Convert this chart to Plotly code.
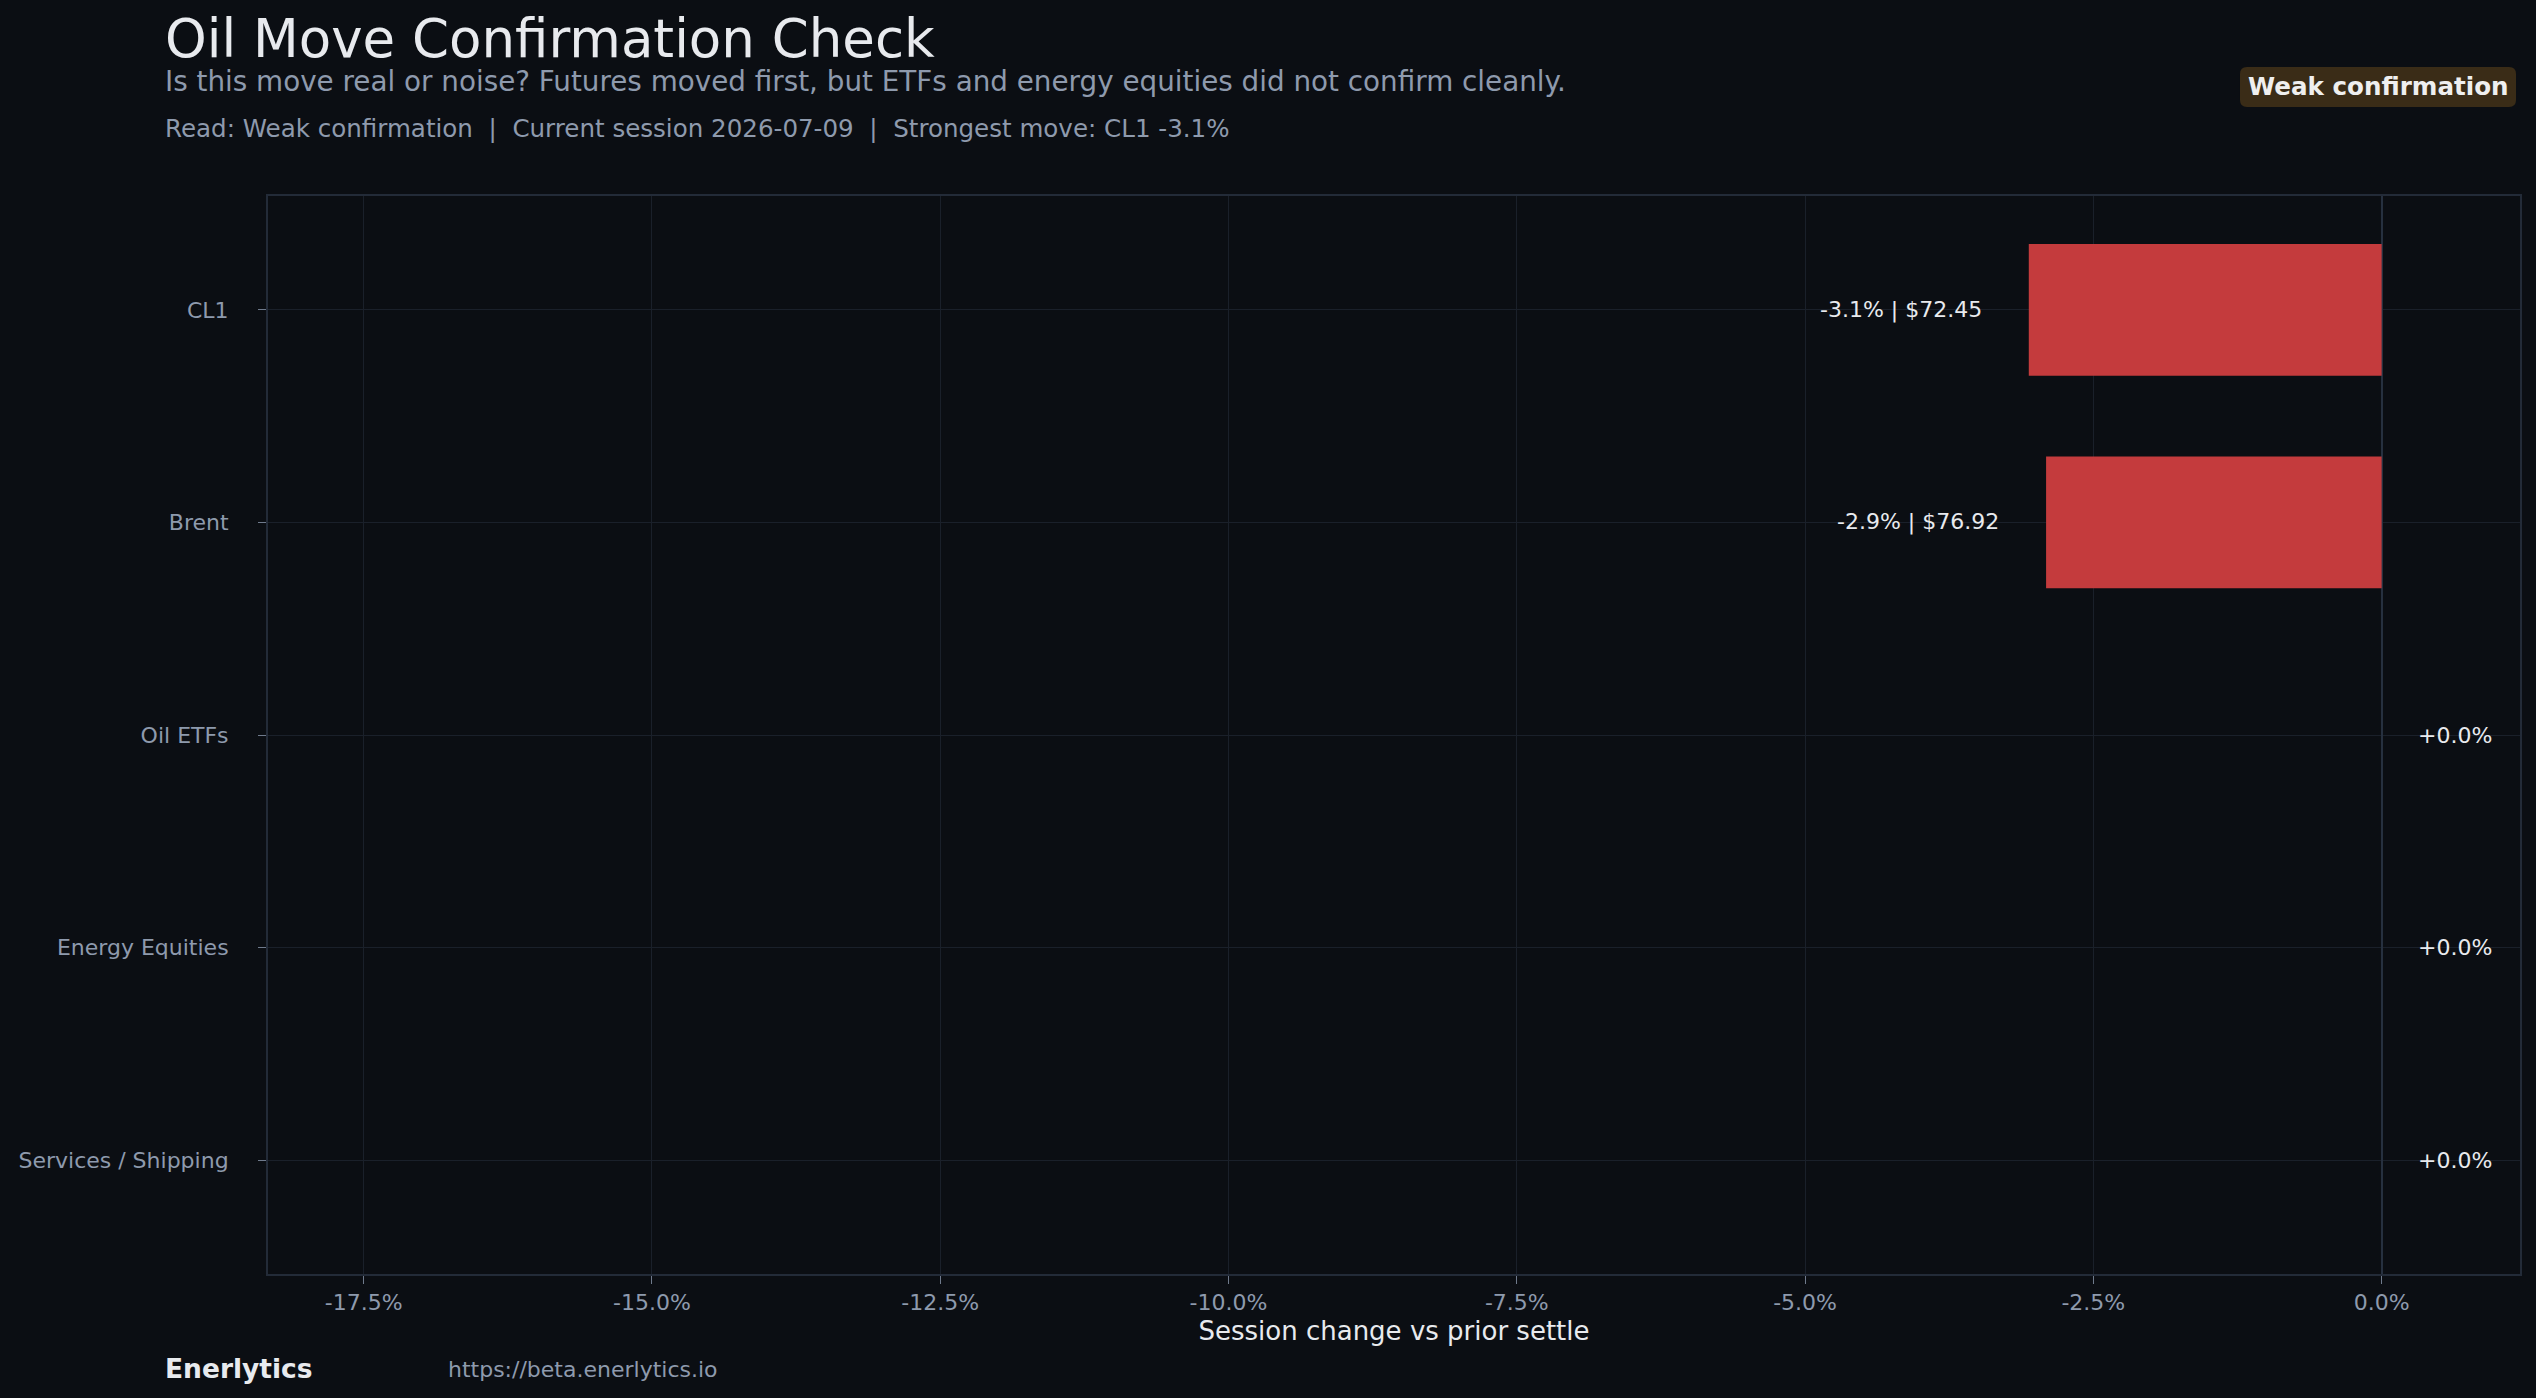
import plotly.graph_objects as go

# ---------------- data ----------------
categories = ["CL1", "Brent", "Oil ETFs", "Energy Equities", "Services / Shipping"]
session_change_pct = [-3.06, -2.91, 0.0, 0.0, 0.0]
last_price = [72.45, 76.92, None, None, None]
x_tick_values = [-17.5, -15.0, -12.5, -10.0, -7.5, -5.0, -2.5, 0.0]
x_tick_labels = ["-17.5%", "-15.0%", "-12.5%", "-10.0%", "-7.5%", "-5.0%", "-2.5%", "0.0%"]

title_text = "Oil Move Confirmation Check"
subtitle_text = "Is this move real or noise? Futures moved first, but ETFs and energy equities did not confirm cleanly."
read_text = "Read: Weak confirmation  |  Current session 2026-07-09  |  Strongest move: CL1 -3.1%"
badge_text = "Weak confirmation"
brand_text = "Enerlytics"
url_text = "https://beta.enerlytics.io"
x_title = "Session change vs prior settle"

# ---------------- style ----------------
W, H = 2536, 1398
PL, PR, PT, PB = 268, 2520, 196, 1274
BG = "#0b0e13"
FONT = "DejaVu Sans"
TXT = "#e8eaee"
MUTED = "#8e9aad"
GRID = "#1a202a"
AXLINE = "#232b38"
BAR = "#c43b3d"


def px_x(px):
    return (px - PL) / (PR - PL)


def px_y(py):
    return (PB - py) / (PB - PT)


fig = go.Figure()
fig.add_trace(go.Bar(
    y=categories,
    x=session_change_pct,
    orientation="h",
    marker=dict(color=BAR, line=dict(width=0)),
    width=0.62,
    hoverinfo="skip",
    showlegend=False,
))

annotations = []
# value labels
for cat, v, p in zip(categories, session_change_pct, last_price):
    txt = f"{v:+.1f}%"
    if p is not None:
        txt += f" | ${p:.2f}"
    if v < 0:
        annotations.append(dict(x=v - 0.39, y=cat, xref="x", yref="y", text=txt,
                                showarrow=False, xanchor="right", yanchor="middle",
                                font=dict(family=FONT, size=22, color=TXT)))
    else:
        annotations.append(dict(x=v + 0.30, y=cat, xref="x", yref="y", text=txt,
                                showarrow=False, xanchor="left", yanchor="middle",
                                font=dict(family=FONT, size=22, color=TXT)))

# header texts
annotations += [
    dict(x=px_x(163), y=px_y(38), xref="paper", yref="paper", text=title_text,
         showarrow=False, xanchor="left", yanchor="middle",
         font=dict(family=FONT, size=53, color=TXT)),
    dict(x=px_x(163), y=px_y(81.5), xref="paper", yref="paper", text=subtitle_text,
         showarrow=False, xanchor="left", yanchor="middle",
         font=dict(family=FONT, size=27.8, color=MUTED)),
    dict(x=px_x(163), y=px_y(128.5), xref="paper", yref="paper", text=read_text,
         showarrow=False, xanchor="left", yanchor="middle",
         font=dict(family=FONT, size=24.55, color=MUTED)),
    dict(x=px_x(2378), y=px_y(87), xref="paper", yref="paper", text=f"<b>{badge_text}</b>",
         showarrow=False, xanchor="center", yanchor="middle",
         font=dict(family=FONT, size=24.6, color="#efefef")),
    dict(x=px_x(163), y=px_y(1368), xref="paper", yref="paper", text=f"<b>{brand_text}</b>",
         showarrow=False, xanchor="left", yanchor="middle",
         font=dict(family=FONT, size=26.5, color=TXT)),
    dict(x=px_x(446), y=px_y(1369), xref="paper", yref="paper", text=url_text,
         showarrow=False, xanchor="left", yanchor="middle",
         font=dict(family=FONT, size=22, color=MUTED)),
]


def rounded_rect(x0, y0, x1, y1, r):
    # pixel coords -> paper coords path
    def P(x, y):
        return f"{px_x(x):.6f},{px_y(y):.6f}"
    return (f"M {P(x0 + r, y0)} L {P(x1 - r, y0)} Q {P(x1, y0)} {P(x1, y0 + r)} "
            f"L {P(x1, y1 - r)} Q {P(x1, y1)} {P(x1 - r, y1)} "
            f"L {P(x0 + r, y1)} Q {P(x0, y1)} {P(x0, y1 - r)} "
            f"L {P(x0, y0 + r)} Q {P(x0, y0)} {P(x0 + r, y0)} Z")


shapes = [dict(type="path", xref="paper", yref="paper",
               path=rounded_rect(2240, 67, 2516, 107, 7),
               fillcolor="#3a2c17", line=dict(width=0), layer="below")]

fig.update_layout(
    width=W, height=H,
    margin=dict(l=PL, r=W - PR, t=PT, b=H - PB, pad=0),
    paper_bgcolor=BG, plot_bgcolor=BG,
    font=dict(family=FONT, size=22, color=MUTED),
    annotations=annotations,
    shapes=shapes,
    bargap=0.38,
    showlegend=False,
)

fig.update_xaxes(
    range=[-18.33, 1.2],
    tickmode="array", tickvals=x_tick_values, ticktext=x_tick_labels,
    tickfont=dict(family=FONT, size=22, color=MUTED),
    ticks="outside", ticklen=8, tickcolor="#6f7a8c", tickwidth=1,
    showgrid=True, gridcolor=GRID, gridwidth=1,
    zeroline=True, zerolinecolor="#26303f", zerolinewidth=2,
    showline=True, linecolor=AXLINE, linewidth=2, mirror=True,
    title=dict(text=x_title, font=dict(family=FONT, size=26, color=TXT), standoff=7),
)
fig.update_yaxes(
    categoryorder="array", categoryarray=categories,
    range=[4.536, -0.536],
    tickfont=dict(family=FONT, size=22, color=MUTED),
    ticks="outside", ticklen=8, tickcolor="#6f7a8c", tickwidth=1,
    ticklabelstandoff=25,
    showgrid=True, gridcolor=GRID, gridwidth=1,
    zeroline=False,
    showline=True, linecolor=AXLINE, linewidth=2, mirror=True,
)

fig.write_html("out.html")
